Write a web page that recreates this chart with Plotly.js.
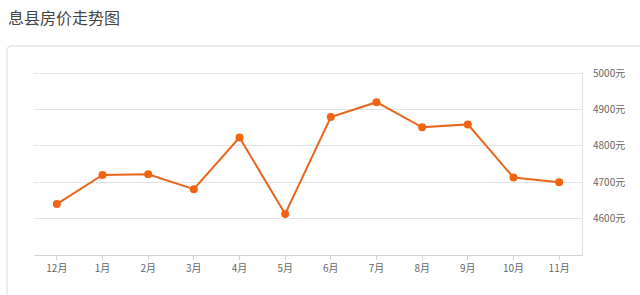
<!DOCTYPE html>
<html><head><meta charset="utf-8">
<script src="https://cdn.plot.ly/plotly-3.0.1.min.js"></script>
<style>html,body{margin:0;padding:0;background:#fff;}#chart{width:640px;height:295px;}</style>
</head><body><div id="chart"></div>
<script>
const months = ['12月','1月','2月','3月','4月','5月','6月','7月','8月','9月','10月','11月'];
const prices = [4640, 4720, 4722, 4681, 4823, 4613, 4879, 4920, 4851, 4859, 4713, 4700];
const yTicks = [4600, 4700, 4800, 4900, 5000];
const yTickText = yTicks.map(v => v + '元');

const L = 34, R = 582, T = 72, B = 255;
const px = x => (x - L) / (R - L);
const py = y => (B - y) / (B - T);
const r = 5;
const cx0 = px(7), cy0 = py(46), cx1 = px(660), cy1 = py(320);
const rx = r / (R - L), ry = r / (B - T);
const cardPath = `M ${cx0} ${cy1} L ${cx0} ${cy0 - ry} Q ${cx0} ${cy0} ${cx0 + rx} ${cy0} L ${cx1} ${cy0}`;

Plotly.newPlot('chart', [{
  x: months, y: prices, type: 'scatter', mode: 'lines+markers',
  line: {color: '#E8661C', width: 2},
  marker: {color: '#F26411', size: 8},
  hoverinfo: 'none'
}], {
  width: 640, height: 295,
  margin: {l: L, r: 640 - R, t: T, b: 295 - B, pad: 0},
  paper_bgcolor: '#fff', plot_bgcolor: '#fff',
  showlegend: false,
  font: {family: '"Noto Sans CJK SC", "Open Sans", sans-serif', color: '#666'},
  title: {text: '息县房价走势图', x: 8/640, xanchor: 'left', xref: 'container', y: 1 - 18/295, yanchor: 'middle', yref: 'container',
          font: {size: 16, color: '#444', family: '"Noto Sans CJK SC", sans-serif'}},
  xaxis: {type: 'category', range: [-0.5, 11.5], showgrid: false, zeroline: false,
          showline: true, linecolor: '#d4d4d4', linewidth: 1,
          ticks: 'outside', ticklen: 4, tickcolor: '#d4d4d4',
          tickfont: {size: 10, color: '#666'}, fixedrange: true},
  yaxis: {side: 'right', range: [4500, 5003], tickvals: yTicks, ticktext: yTickText,
          showgrid: true, gridcolor: '#e3e3e3', gridwidth: 1, zeroline: false,
          showline: true, linecolor: '#e0e0e0', linewidth: 1,
          ticks: 'outside', ticklen: 8, tickcolor: 'rgba(0,0,0,0)',
          tickfont: {size: 10, color: '#666'}, fixedrange: true},
  shapes: [{type: 'path', xref: 'paper', yref: 'paper', path: cardPath,
            line: {color: '#e6e6e6', width: 1.5}, layer: 'below'}]
}, {displayModeBar: false, staticPlot: true});
</script></body></html>
